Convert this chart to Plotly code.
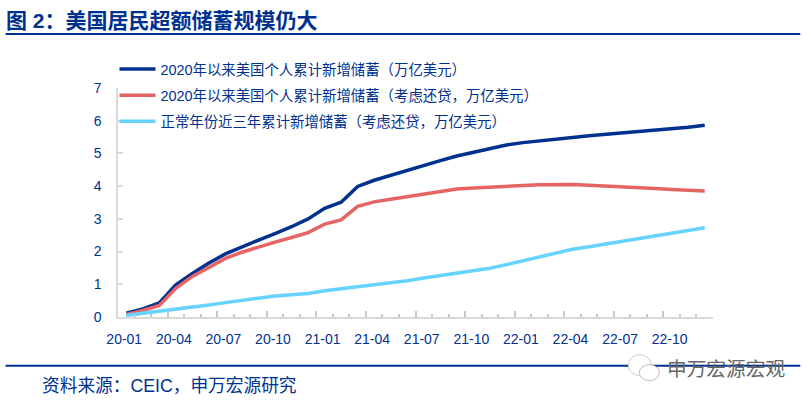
import plotly.graph_objects as go

months = [f"{y}-{m:02d}" for y in (20, 21, 22) for m in range(1, 13)]

gross_savings = [0.12, 0.25, 0.43, 0.98, 1.33, 1.65, 1.93, 2.15, 2.35, 2.55, 2.76, 3.0,
                 3.32, 3.51, 3.99, 4.18, 4.33, 4.49, 4.65, 4.78, 4.92, 5.04, 5.15, 5.26,
                 5.33, 5.39, 5.44, 5.49, 5.54, 5.58, 5.63, 5.67, 5.71, 5.75, 5.8, 5.86]
net_savings = [0.08, 0.2, 0.35, 0.88, 1.24, 1.53, 1.79, 1.98, 2.14, 2.29, 2.43, 2.58,
               2.84, 2.97, 3.38, 3.52, 3.6, 3.68, 3.77, 3.85, 3.91, 3.94, 3.97, 4.01,
               4.02, 4.04, 4.05, 4.05, 4.03, 4.01, 3.97, 3.95, 3.93, 3.9, 3.87, 3.85]
normal_savings = [0.05, 0.11, 0.18, 0.25, 0.31, 0.37, 0.44, 0.51, 0.58, 0.64, 0.68, 0.72,
                  0.8, 0.86, 0.92, 0.98, 1.04, 1.11, 1.19, 1.26, 1.34, 1.42, 1.49, 1.6,
                  1.72, 1.84, 1.95, 2.07, 2.15, 2.23, 2.31, 2.39, 2.47, 2.55, 2.64, 2.73]

names = ["2020年以来美国个人累计新增储蓄（万亿美元）",
         "2020年以来美国个人累计新增储蓄（考虑还贷，万亿美元）",
         "正常年份近三年累计新增储蓄（考虑还贷，万亿美元）"]
colors = ["#00318F", "#E76464", "#66D3FF"]
NAVY = "#00318F"
FONT = "Liberation Sans, Noto Sans CJK SC, sans-serif"
W, H = 812, 405
L, R, T, B = 117.5, 712.7, 88.0, 317.3


def px(x):
    return (x - L) / (R - L)


def py(y):
    return (B - y) / (B - T)


fig = go.Figure()
for i, (name, vals, col) in enumerate(zip(names, [gross_savings, net_savings, normal_savings], colors)):
    fig.add_trace(go.Scatter(x=months, y=vals, mode="lines", name=name, legendgroup=str(i),
                             line=dict(color=col, width=3.5)))
# invisible trace that keeps the boundary tick axis alive
fig.add_trace(go.Scatter(x=list(range(len(months))), y=gross_savings, xaxis="x2", mode="lines", opacity=0,
                         showlegend=False, hoverinfo="skip"))

shapes = []
for y in (34, 366):
    shapes.append(dict(type="line", xref="paper", yref="paper", layer="below",
                       x0=px(5), x1=px(800), y0=py(y), y1=py(y),
                       line=dict(color=NAVY, width=2)))
# WeChat style watermark icon
shapes.append(dict(type="circle", xref="paper", yref="paper", x0=px(628), x1=px(651), y0=py(355), y1=py(376),
                   fillcolor="white", line=dict(color="#CCCCCC", width=1)))
shapes.append(dict(type="circle", xref="paper", yref="paper", x0=px(639), x1=px(659), y0=py(365), y1=py(381),
                   fillcolor="white", line=dict(color="#BBBBBB", width=1)))

annots = [
    dict(text="<b>图 2：美国居民超额储蓄规模仍大</b>", x=px(3), y=py(20), font=dict(size=21, color=NAVY, family=FONT)),
    dict(text="资料来源：CEIC，申万宏源研究", x=px(39), y=py(386), font=dict(size=17.7, color=NAVY, family=FONT)),
    dict(text="申万宏源宏观", x=px(665), y=py(369), font=dict(size=19.7, color="#666666", family=FONT)),
]
for a in annots:
    a.update(xref="paper", yref="paper", showarrow=False, xanchor="left", yanchor="middle")

fig.update_layout(
    width=W, height=H,
    margin=dict(l=L, r=W - R, t=T, b=H - B, pad=0),
    paper_bgcolor="white", plot_bgcolor="white",
    font=dict(family=FONT, size=14, color=NAVY),
    shapes=shapes, annotations=annots,
    legend=dict(x=px(114), y=py(53), xanchor="left", yanchor="top",
                bgcolor="rgba(0,0,0,0)", itemwidth=36, tracegroupgap=4.5, font=dict(size=14.4, color=NAVY, family=FONT)),
    xaxis=dict(type="category", categoryorder="array", categoryarray=months, range=[-0.5, 35.5],
               tickmode="linear", tick0=0, dtick=3, ticks="",
               showline=True, linecolor="#D9D9D9", linewidth=1.5, showgrid=False, zeroline=False,
               ticklabelstandoff=8, ticklabelshift=-2,
               tickangle=0, tickfont=dict(size=14, color=NAVY, family=FONT)),
    xaxis2=dict(overlaying="x", anchor="y", side="bottom", range=[0, 36], tickmode="linear", tick0=0, dtick=3,
                ticks="inside", ticklen=6, tickwidth=1.5, tickcolor="#C8C8C8",
                minor=dict(ticks="inside", ticklen=3, tickwidth=1.5, tickcolor="#C8C8C8", dtick=1),
                showticklabels=False, showline=True, linecolor="#D9D9D9", linewidth=1.5, showgrid=False, zeroline=False),
    yaxis=dict(range=[0, 7], dtick=1, ticks="inside", ticklen=5, tickwidth=1.5, tickcolor="#D9D9D9",
               showline=True, linecolor="#D9D9D9", linewidth=1.5, showgrid=False, zeroline=False,
               ticklabelstandoff=12, tickfont=dict(size=14, color=NAVY, family=FONT)),
)
fig.write_html("out.html", config={"displayModeBar": False}, post_script="document.body.style.margin='0';")
